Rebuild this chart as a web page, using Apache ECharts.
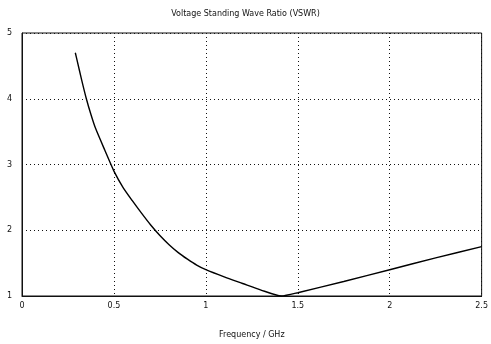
<!DOCTYPE html>
<html>
<head>
<meta charset="utf-8">
<script src="https://cdn.jsdelivr.net/npm/echarts@6/dist/echarts.min.js"></script>
<style>
  html, body { margin: 0; padding: 0; background: #fff; }
  #chart { width: 491px; height: 344px; }
</style>
</head>
<body>
<div id="chart"></div>
<script>
// values
const freqGHz = [0.29, 0.30, 0.325, 0.35, 0.375, 0.40, 0.45, 0.50, 0.55, 0.60, 0.65, 0.70, 0.75, 0.80, 0.85, 0.90, 0.95, 1.00, 1.10, 1.20, 1.30, 1.41, 1.50, 1.75, 2.00, 2.25, 2.50];
const vswr    = [4.70, 4.58, 4.28,  4.00, 3.76,  3.55, 3.22, 2.90, 2.65, 2.45, 2.26, 2.08, 1.92, 1.78, 1.66, 1.56, 1.47, 1.40, 1.29, 1.19, 1.09, 1.00, 1.05, 1.22, 1.40, 1.58, 1.75];
const xTicks = [0, 0.5, 1, 1.5, 2, 2.5];

const chart = echarts.init(document.getElementById('chart'));
const font = 'DejaVu Sans';
const ink = '#111';

const option = {
  animation: false,
  backgroundColor: '#fff',
  title: {
    text: 'Voltage Standing Wave Ratio (VSWR)',
    left: 'center',
    top: 5,
    textStyle: { fontFamily: font, fontSize: 8, fontWeight: 'normal', color: ink }
  },
  grid: { left: 22, right: 8, top: 33, bottom: 44, show: true, borderColor: ink, borderWidth: 1 },
  xAxis: {
    type: 'value',
    min: 0, max: 2.5, interval: 0.5,
    name: 'Frequency / GHz',
    nameLocation: 'middle',
    nameGap: 35,
    nameTextStyle: { fontFamily: font, fontSize: 8, color: ink },
    axisLine: { lineStyle: { color: ink } },
    axisTick: { show: false },
    axisLabel: {
      fontFamily: font, fontSize: 8, color: ink, margin: 6,
      formatter: v => xTicks.includes(v) ? String(v) : ''
    },
    splitLine: { lineStyle: { color: ink, type: [1, 3], width: 1 } }
  },
  yAxis: {
    type: 'value',
    min: 1, max: 5, interval: 1,
    axisLine: { show: true, lineStyle: { color: ink } },
    axisTick: { show: false },
    axisLabel: { fontFamily: font, fontSize: 8, color: ink, margin: 10 },
    splitLine: { lineStyle: { color: ink, type: [1, 3], width: 1 } }
  },
  series: [{
    type: 'line',
    data: freqGHz.map((f, i) => [f, vswr[i]]),
    smooth: 0.2,
    showSymbol: false,
    lineStyle: { color: '#000', width: 1.4 }
  }]
};

chart.setOption(option);
</script>
</body>
</html>
